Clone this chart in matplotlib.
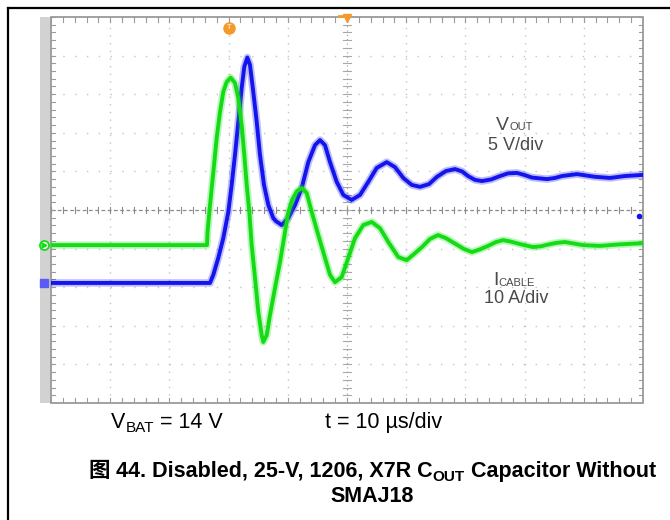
import matplotlib

matplotlib.use("Agg")

import matplotlib.pyplot as plt
import numpy as np
from matplotlib.lines import Line2D
from matplotlib.patches import Rectangle

# time axis in microseconds (10 us/div), trace levels in screen divisions
t_icable_us = [0, 26.35, 26.44, 26.86, 27.42, 27.99, 28.55, 29.10, 29.68, 30.35,
               31.08, 31.64, 32.21, 32.65, 33.06, 33.50, 33.90, 34.46, 35.02, 35.59,
               35.86, 36.44, 36.99, 37.84, 38.68, 39.36, 40.03, 40.71, 41.55, 42.40,
               43.19, 44.04, 45.15, 46.28, 47.13, 47.97, 49.10, 50.22, 51.35, 52.75,
               54.17, 55.57, 56.98, 58.67, 60.08, 61.32, 62.67, 64.02, 65.37, 66.72,
               68.24, 69.76, 71.11, 72.47, 73.82, 75.17, 76.35, 77.70, 78.89, 80.24,
               81.42, 82.77, 84.12, 85.47, 86.82, 89.86, 92.74, 96.11, 100]
icable_div = [-0.91, -0.91, -0.57, 0.13, 0.98, 1.87, 2.54, 3.06, 3.32, 3.43,
              3.29, 2.90, 2.20, 1.43, 0.65, -0.05, -0.91, -1.76, -2.64, -3.24,
              -3.42, -3.24, -2.72, -2.02, -1.35, -0.73, -0.10, 0.26, 0.49, 0.57,
              0.44, -0.05, -0.65, -1.24, -1.68, -1.87, -1.74, -1.24, -0.73, -0.39,
              -0.31, -0.47, -0.83, -1.22, -1.30, -1.14, -0.96, -0.75, -0.65, -0.73,
              -0.87, -1.01, -1.09, -1.02, -0.93, -0.83, -0.78, -0.82, -0.87, -0.92,
              -0.96, -0.94, -0.89, -0.85, -0.83, -0.91, -0.93, -0.89, -0.86]

t_vout_us = [0, 26.86, 27.42, 28.26, 29.10, 29.95, 30.52, 31.08, 31.64, 32.21,
             32.65, 33.16, 33.61, 34.17, 34.75, 35.30, 35.98, 36.71, 37.55, 38.01,
             38.97, 40.08, 41.22, 42.35, 43.46, 44.59, 45.44, 46.28, 47.13, 48.26,
             49.38, 50.79, 52.20, 53.60, 55.02, 56.71, 58.11, 59.51, 60.93, 62.33,
             63.85, 65.20, 66.72, 68.24, 69.43, 70.44, 71.62, 72.80, 74.32, 75.84,
             77.20, 78.72, 79.90, 81.25, 83.78, 85.14, 86.32, 88.85, 91.89, 94.43,
             96.96, 100]
vout_div = [-1.89, -1.89, -1.68, -1.24, -0.73, -0.05, 0.65, 1.43, 2.28, 3.16,
            3.71, 3.95, 3.76, 3.06, 2.28, 1.43, 0.65, 0.13, -0.21, -0.29,
            -0.39, -0.21, 0.13, 0.57, 1.24, 1.68, 1.81, 1.68, 1.24, 0.73,
            0.39, 0.26, 0.39, 0.73, 1.09, 1.24, 1.11, 0.83, 0.65, 0.60,
            0.67, 0.86, 1.01, 1.06, 1.00, 0.88, 0.78, 0.75, 0.79, 0.88,
            0.95, 0.96, 0.91, 0.84, 0.80, 0.83, 0.88, 0.93, 0.86, 0.83,
            0.88, 0.91]

trigger_t_us = 30.07
trigger_level_div = 4.72

W, H = 670, 520
GREEN = "#14dc14"
BLUE = "#1414ee"
ORANGE = "#f39a2a"
GRID = "#c4c4c4"
LABEL = "#4a4a4a"
LATIN = ["Liberation Sans", "DejaVu Sans"]
CJK = ["Noto Sans CJK SC", "DejaVu Sans"]

plt.rcParams["font.family"] = LATIN


def fx(px):
    return px / W


def fy(py):
    return 1 - py / H


fig = plt.figure(figsize=(W / 100, H / 100), dpi=100)
fig.patch.set_facecolor("white")
renderer = fig.canvas.get_renderer()


def text_run(x_px, y_px, pieces, ha="left", **kw):
    """Lay out (text, size, drop_px, family) pieces side by side on one baseline."""
    artists = []
    x = x_px
    for s, size, drop, family in pieces:
        t = fig.text(fx(x), fy(y_px + drop), s, fontsize=size, family=family,
                     ha="left", va="baseline", **kw)
        x += t.get_window_extent(renderer).width
        artists.append(t)
    if ha == "center":
        shift = (x - x_px) / 2
        for t in artists:
            px, py = t.get_position()
            t.set_position((px - shift / W, py))
    return artists


# page frame
fig.add_artist(Line2D([fx(8), fx(8)], [fy(8), 0], color="black", lw=1.6))
fig.add_artist(Line2D([fx(8), 1], [fy(8), fy(8)], color="black", lw=1.6))

ax = fig.add_axes([fx(51), fy(403), (643 - 51) / W, (403 - 17) / H])
ax.set_xlim(0, 100)
ax.set_ylim(-5, 5)
ax.set_axis_off()

# grey strip at the left edge of the screen
ax.add_patch(Rectangle((-1.86, -5), 1.86, 10, facecolor="#d2d2d2", edgecolor="none",
                       clip_on=False, zorder=0))

# graticule
for x in range(10, 100, 10):
    if x == 50:
        continue
    ax.plot([x, x], [-5, 5], color=GRID, lw=1.0, ls=(0, (1, 4.5)))
for y in range(-4, 5):
    if y == 0:
        continue
    ax.plot([0, 100], [y, y], color=GRID, lw=1.0, ls=(0, (1, 7.5)))

ax.plot([0, 100], [0, 0], color="#8c8c8c", lw=0.9, ls=(0, (3, 2)))
ax.plot([50, 50], [-5, 5], color="#a8a8a8", lw=0.9, ls=(0, (1, 2.5)))
for x in np.arange(0, 100.1, 2):
    ax.plot([x, x], [-0.08, 0.08], color="#8c8c8c", lw=0.8)
    ax.plot([x, x], [4.88, 5], color="#9a9a9a", lw=0.8)
    ax.plot([x, x], [-5, -4.88], color="#9a9a9a", lw=0.8)
for y in np.arange(-5, 5.01, 0.2):
    ax.plot([49.4, 50.6], [y, y], color="#a8a8a8", lw=0.8)
    ax.plot([99.3, 100], [y, y], color="#9a9a9a", lw=0.8)
    ax.plot([0, 0.7], [y, y], color="#9a9a9a", lw=0.8)
ax.add_patch(Rectangle((0, -5), 100, 10, fill=False, edgecolor="#9a9a9a", lw=1.3, clip_on=False))

# traces: soft halo under a solid core to mimic the noisy scope trace
for t, v, c in [(t_vout_us, vout_div, BLUE), (t_icable_us, icable_div, GREEN)]:
    ax.plot(t, v, color=c, lw=5.4, alpha=0.28, solid_joinstyle="round", solid_capstyle="round")
    ax.plot(t, v, color=c, lw=2.8, solid_joinstyle="round", solid_capstyle="round")

# channel ground markers, trigger markers
ax.plot([-1.2], [icable_div[0]], marker="o", ms=6.5, mfc="white", mec=GREEN, mew=1.3,
        clip_on=False, zorder=3)
ax.plot([-1.2], [icable_div[0]], marker=">", ms=3.5, color=GREEN, clip_on=False, zorder=3)
ax.plot([-1.2], [vout_div[0]], marker="s", ms=6, color="#5a5af5", clip_on=False, zorder=3)
ax.plot([99.3], [-0.16], marker="o", ms=3, color=BLUE)
ax.plot([trigger_t_us], [trigger_level_div], marker="o", ms=8, color=ORANGE)
ax.text(trigger_t_us, trigger_level_div, "T", color="#ffe0b0", fontsize=5.5,
        ha="center", va="center", fontweight="bold")
ax.plot([50], [4.97], marker="v", ms=6, color=ORANGE, clip_on=False)
ax.plot([48.6, 50], [5.02, 5.02], color=ORANGE, lw=2, clip_on=False)

# channel labels
text_run(514.5, 130, [("V", 14, 0, LATIN), ("OUT", 8, 0.5, LATIN)], ha="center", color=LABEL)
fig.text(fx(515.5), fy(150), "5 V/div", ha="center", va="baseline", fontsize=13, color=LABEL)
text_run(514, 285, [("I", 14, 0, LATIN), ("CABLE", 8, 0.5, LATIN)], ha="center", color=LABEL)
fig.text(fx(516.5), fy(303), "10 A/div", ha="center", va="baseline", fontsize=13, color=LABEL)

text_run(111, 428, [("V", 15.5, 0, LATIN), ("BAT", 11, 4, LATIN), (" = 14 V", 15.5, 0, LATIN)],
         color="black")
fig.text(fx(325), fy(428), "t = 10 µs/div", ha="left", va="baseline", fontsize=15.5, color="black")

text_run(372, 477, [("图", 15.5, 0, CJK),
                    (" 44. Disabled, 25-V, 1206, X7R C", 15.5, 0, LATIN),
                    ("OUT", 11, 4, LATIN),
                    (" Capacitor Without", 15.5, 0, LATIN)],
         ha="center", fontweight="bold", color="black")
fig.text(fx(372), fy(502), "SMAJ18", ha="center", va="baseline", fontsize=15.5,
         fontweight="bold", color="black")

fig.savefig("out.png", dpi=100)
